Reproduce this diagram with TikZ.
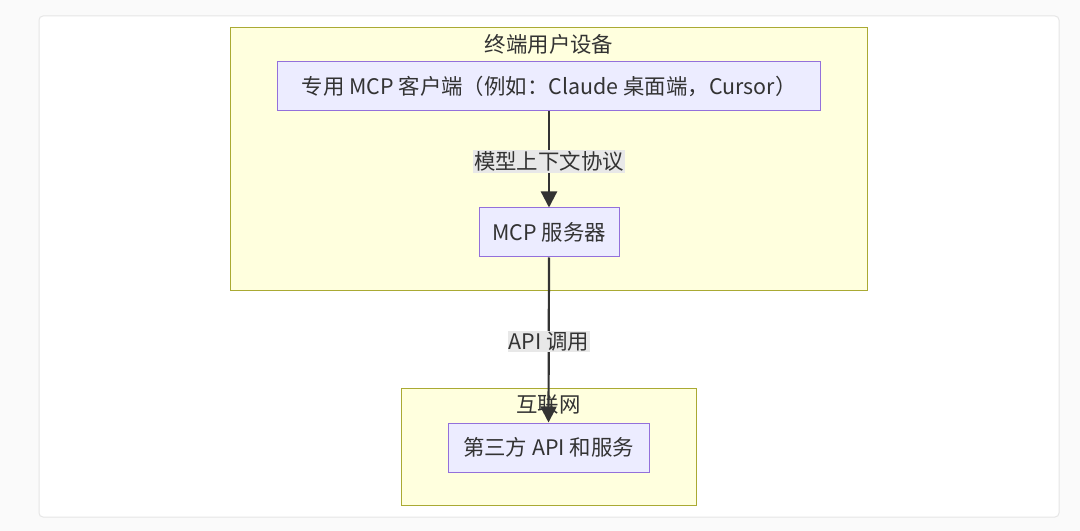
\documentclass[tikz,border=0pt]{standalone}
\usepackage{fontspec}
\setmainfont{Noto Sans CJK SC}
\usetikzlibrary{arrows.meta}
\definecolor{clfill}{HTML}{FFFFDE}
\definecolor{cldraw}{HTML}{AAAA33}
\definecolor{ndfill}{HTML}{ECECFF}
\definecolor{nddraw}{HTML}{9370DB}
\definecolor{txt}{HTML}{333333}
\definecolor{lblbg}{HTML}{E8E8E8}
\definecolor{frame}{HTML}{E6E6E6}
\tikzset{
  x=1bp, y=-1bp,
  cluster/.style={draw=cldraw, fill=clfill, line width=1bp},
  nodebox/.style={draw=nddraw, fill=ndfill, line width=1bp, rectangle, text=txt, inner sep=0pt,
                  font=\fontsize{21.5}{25}\selectfont},
  ctitle/.style={text=txt, inner sep=0pt, font=\fontsize{21.5}{25}\selectfont},
  elabel/.style={fill=lblbg, text=txt, inner sep=1bp, font=\fontsize{21.5}{25}\selectfont},
  conn/.style={draw=txt, line width=2.2bp, -{Triangle[length=16bp,width=16bp]}},
}
\begin{document}
\begin{tikzpicture}
\useasboundingbox (0,0) rectangle (1080,531);
\fill[white!98!black] (0,0) rectangle (1080,531);
\draw[draw=frame, fill=white, line width=1bp, rounded corners=4bp] (39,16) rectangle (1059,517);
% clusters
\draw[cluster] (230,28) rectangle (867,291);
\node[ctitle] (t1) at (549,44) {终端用户设备};
\draw[cluster] (401,388) rectangle (696,505);
\node[ctitle] (t2) at (548.5,405) {互联网};
% nodes
\node[nodebox, minimum width=542bp, minimum height=49bp] (client) at (549,86.5) {专用 MCP 客户端（例如：Claude 桌面端，Cursor）};
\node[nodebox, minimum width=140bp, minimum height=49bp] (server) at (549,232.5) {MCP 服务器};
\node[nodebox, minimum width=201bp, minimum height=49bp] (api) at (548.5,447.5) {第三方 API 和服务};
% connectors
\draw[conn] (client.south) -- (server.north);
\draw[conn] (server.south) -- (api.north);
\node[elabel] (l1) at (549,161.5) {模型上下文协议};
\node[elabel] (l2) at (549,341.5) {API 调用};
\end{tikzpicture}
\end{document}
